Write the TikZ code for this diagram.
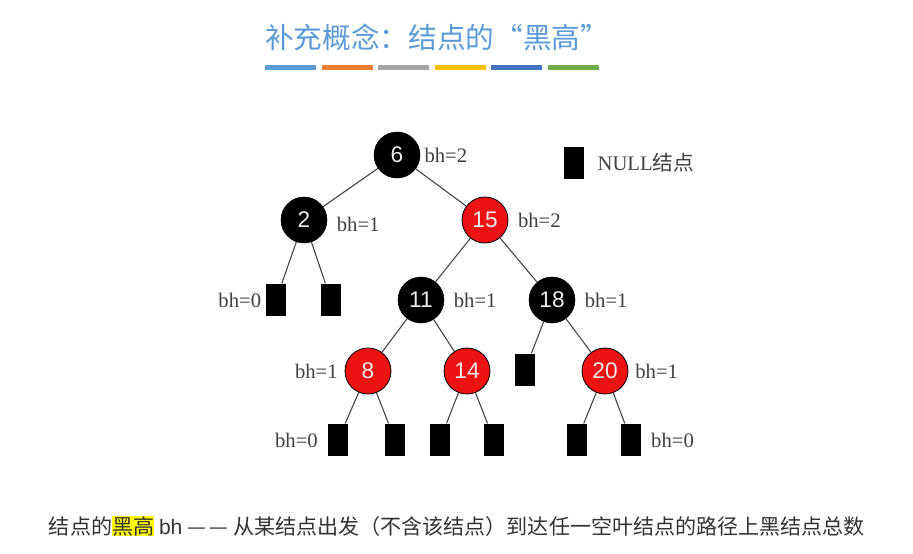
\documentclass[tikz,border=0pt]{standalone}
\usepackage{fontspec}
\setmainfont{Liberation Serif}
\newfontfamily\cjkfont{Noto Sans CJK SC}
\newfontfamily\numfont{Liberation Sans}
\usetikzlibrary{positioning}
\definecolor{titleblue}{RGB}{91,155,213}
\definecolor{barblue}{RGB}{91,155,213}
\definecolor{barorange}{RGB}{237,125,49}
\definecolor{bargray}{RGB}{165,165,165}
\definecolor{baryellow}{RGB}{255,192,0}
\definecolor{bardblue}{RGB}{68,114,196}
\definecolor{bargreen}{RGB}{112,173,71}
\definecolor{rbred}{RGB}{238,18,18}
\definecolor{lblgray}{RGB}{64,64,64}
\definecolor{hlyellow}{RGB}{255,255,0}

\begin{document}
\begin{tikzpicture}[x=0.75pt,y=-0.75pt,
    blacknode/.style={circle, draw=black, fill=black, minimum size=34.5pt, inner sep=0pt,
      text=white!92!black, font=\numfont\fontsize{17}{17}\selectfont},
    rednode/.style={blacknode, fill=rbred, line width=0.6pt},
    nullbox/.style={rectangle, fill=black, minimum width=15.5pt, minimum height=24.5pt, inner sep=0pt},
    bhlbl/.style={text=lblgray, font=\fontsize{15.5}{16}\selectfont, inner sep=1pt},
    edge/.style={draw=black!75, line width=0.8pt}]
  \useasboundingbox (0,0) rectangle (913,553);
  % title and coloured bars
  \node[font=\cjkfont\fontsize{21.5}{24}\selectfont, text=titleblue] (title) at (437,37) {补充概念：结点的“黑高”};
  \foreach \c [count=\i from 0] in {barblue,barorange,bargray,baryellow,bardblue,bargreen}{
    \fill[\c] ({265+56.6*\i},65) rectangle ++(51,5);}
  % inner nodes
  \node[blacknode] (n6)  at (397,155) {6};
  \node[blacknode] (n2)  at (304,220) {2};
  \node[rednode]   (n15) at (485,220) {15};
  \node[blacknode] (n11) at (421,300) {11};
  \node[blacknode] (n18) at (552,300) {18};
  \node[rednode]   (n8)  at (368,371) {8};
  \node[rednode]   (n14) at (467,371) {14};
  \node[rednode]   (n20) at (605,371) {20};
  % NULL leaves
  \node[nullbox] (z2a) at (276,300) {};
  \node[nullbox] (z2b) at (331,300) {};
  \node[nullbox] (z18) at (525,370) {};
  \foreach \x/\nm in {338/z8a,395/z8b,440/z14a,494/z14b,577/z20a,631/z20b}{
    \node[nullbox] (\nm) at (\x,440) {};}
  % edges
  \foreach \a/\b in {n6/n2,n6/n15,n2/z2a,n2/z2b,n15/n11,n15/n18,n11/n8,n11/n14,
      n18/z18,n18/n20,n8/z8a,n8/z8b,n14/z14a,n14/z14b,n20/z20a,n20/z20b}{
    \draw[edge] (\a) -- (\b);}
  % black heights
  \node[bhlbl, right=2pt of n6]  (h6)  {bh=2};
  \node[bhlbl, right=6pt of n2, yshift=-3pt] (h2) {bh=1};
  \node[bhlbl, right=6pt of n15] (h15) {bh=2};
  \node[bhlbl, right=6pt of n11] (h11) {bh=1};
  \node[bhlbl, right=6pt of n18] (h18) {bh=1};
  \node[bhlbl, left=4pt of n8]   (h8)  {bh=1};
  \node[bhlbl, right=4pt of n20] (h20) {bh=1};
  \node[bhlbl, left=2pt of z2a]  (hz1) {bh=0};
  \node[bhlbl, left=6pt of z8a]  (hz2) {bh=0};
  \node[bhlbl, right=6pt of z20b] (hz3) {bh=0};
  % legend
  \node[nullbox] (legbox) at (574,163) {};
  \node[bhlbl, anchor=west] (legtxt) at (596,163) {NULL{\cjkfont 结点}};
  % definition
  \node[font=\cjkfont\fontsize{15.8}{18}\selectfont, text=black!80] (defn) at (457,526)
    {结点的{\setlength{\fboxsep}{0pt}\colorbox{hlyellow}{黑高}} {\numfont bh} —\,— 从某结点出发（不含该结点）到达任一空叶结点的路径上黑结点总数};
\end{tikzpicture}
\end{document}
